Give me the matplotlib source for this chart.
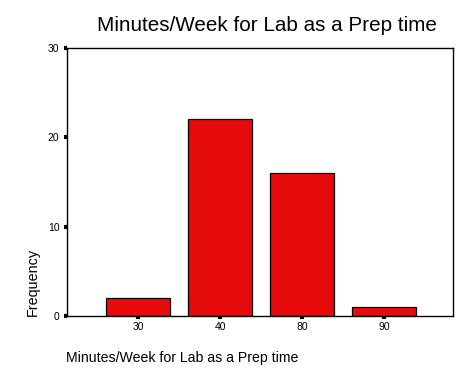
import matplotlib
matplotlib.use("Agg")
import matplotlib.pyplot as plt

categories = ["30", "40", "80", "90"]
frequencies = [2, 22, 16, 1]
yticks = [0, 10, 20, 30]

plt.rcParams['font.family'] = ['Liberation Sans', 'DejaVu Sans']

fig = plt.figure(figsize=(4.73, 3.79), dpi=100)
ax = fig.add_axes([67/473, 1 - 316/379, (453 - 67)/473, (316 - 48)/379])

x = list(range(len(categories)))
ax.bar(x, frequencies, width=0.78, color='#E60C0C', edgecolor='black', linewidth=0.9)

ax.set_xlim(-0.866, 3.84)
ax.set_ylim(0, 30)
ax.set_xticks(x)
ax.set_xticklabels(categories)
ax.set_yticks(yticks)
ax.tick_params(direction='out', length=2.5, width=3, labelsize=7.5, color='black')
ax.tick_params(axis='y', pad=3)
ax.tick_params(axis='x', pad=2)

for s in ax.spines.values():
    s.set_linewidth(1.0)
    s.set_color('black')

fig.text(267/473, 1 - 31/379, "Minutes/Week for Lab as a Prep time",
         ha='center', va='baseline', fontsize=14.9)
fig.text(66/473, 1 - 362/379, "Minutes/Week for Lab as a Prep time",
         ha='left', va='baseline', fontsize=10.2)
fig.text(33/473, 1 - 316/379, "Frequency", rotation=90,
         ha='center', va='bottom', fontsize=10.4)

fig.savefig("out.png", dpi=100)
